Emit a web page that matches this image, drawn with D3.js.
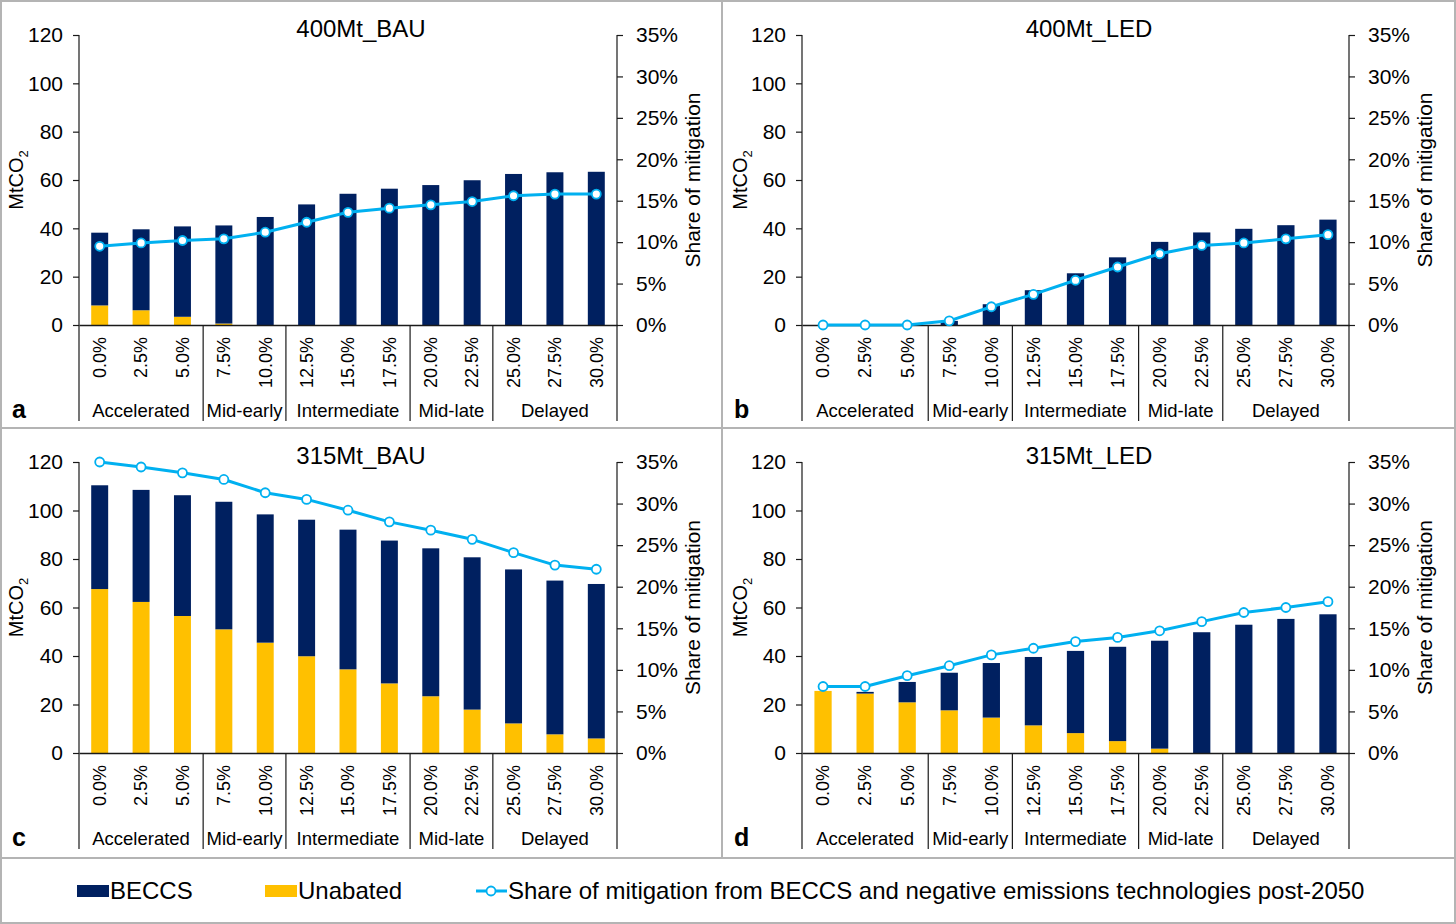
<!DOCTYPE html>
<html><head><meta charset="utf-8">
<script src="https://cdn.jsdelivr.net/npm/d3@7"></script>
<style>
body{margin:0;background:#fff}
svg{display:block}
text{font-family:"Liberation Sans",Arial,sans-serif;fill:#000}
</style>
</head><body><svg id="chart" width="1456" height="924"></svg>
<script>
// ---------- DATA ----------
const categories = ["0.0%","2.5%","5.0%","7.5%","10.0%","12.5%","15.0%","17.5%","20.0%","22.5%","25.0%","27.5%","30.0%"];
const groupNames = ["Accelerated","Mid-early","Intermediate","Mid-late","Delayed"];
const groupSizes = [3,2,3,2,3];
const yTicks = [0,20,40,60,80,100,120];
const pctTicks = [0,5,10,15,20,25,30,35];
const panelTitles = ["400Mt_BAU","400Mt_LED","315Mt_BAU","315Mt_LED"];
const panelLetters = ["a","b","c","d"];
const seriesNames = ["BECCS","Unabated","Share of mitigation from BECCS and negative emissions technologies post-2050"];

// 400Mt_BAU
const beccs400BAU    = [30.1,33.5,37.4,40.6,44.7,49.9,54.3,56.4,57.9,59.9,62.5,63.2,63.4];
const unabated400BAU = [8.1,6.1,3.4,0.6,0,0,0,0,0,0,0,0,0];
const share400BAU    = [9.5,9.9,10.2,10.4,11.2,12.4,13.6,14.1,14.5,14.9,15.6,15.8,15.8];
// 400Mt_LED
const beccs400LED    = [0,0,0,1.7,8.6,14.4,21.4,28.0,34.4,38.3,39.8,41.3,43.6];
const unabated400LED = [0,0,0,0,0,0,0,0,0,0,0,0,0];
const share400LED    = [0,0,0,0.5,2.2,3.7,5.4,7.0,8.6,9.6,9.9,10.4,10.9];
// 315Mt_BAU
const beccs315BAU    = [42.8,46.2,49.8,52.6,52.9,56.3,57.6,58.9,61.0,62.8,63.5,63.4,63.7];
const unabated315BAU = [67.6,62.3,56.5,51.0,45.5,39.9,34.5,28.7,23.4,17.9,12.2,7.7,6.0];
const share315BAU    = [35.0,34.4,33.7,32.9,31.3,30.5,29.2,27.8,26.8,25.7,24.1,22.6,22.1];
// 315Mt_LED
const beccs315LED    = [0,0.7,8.4,15.5,22.5,28.2,33.9,38.9,44.5,49.8,52.9,55.3,57.2];
const unabated315LED = [25.6,24.5,20.9,17.6,14.6,11.4,8.2,4.9,1.8,0,0,0,0];
const share315LED    = [8.0,8.0,9.3,10.5,11.8,12.6,13.4,13.9,14.7,15.8,16.9,17.5,18.2];

// ---------- STYLE / LAYOUT ----------
const C_BECCS = "#002060", C_UNAB = "#FFC000", C_LINE = "#00B0F0", C_BORDER = "#b4b4b4", C_AXIS = "#1a1a1a";
const layout = [
  {bx:0,   by:0,   bw:722, bh:428, x0:79,  x1:617,  top:35,  bottom:325},
  {bx:722, by:0,   bw:734, bh:428, x0:802, x1:1349, top:35,  bottom:325},
  {bx:0,   by:428, bw:722, bh:430, x0:79,  x1:617,  top:462, bottom:753},
  {bx:722, by:428, bw:734, bh:430, x0:802, x1:1349, top:462, bottom:753}
];
const panelData = [
  [beccs400BAU, unabated400BAU, share400BAU],
  [beccs400LED, unabated400LED, share400LED],
  [beccs315BAU, unabated315BAU, share315BAU],
  [beccs315LED, unabated315LED, share315LED]
];

const svg = d3.select("#chart");
svg.append("rect").attr("x",0).attr("y",0).attr("width",1456).attr("height",924).attr("fill","#fff");

panelData.forEach((pd, i) => {
  const L = layout[i];
  const g = svg.append("g");
  const rows = categories.map((c, j) => ({cat:c, beccs:pd[0][j], unabated:pd[1][j], share:pd[2][j]}));
  const x = d3.scaleBand().domain(categories).range([L.x0, L.x1]).paddingInner(0.59).paddingOuter(0.295);
  const y = d3.scaleLinear().domain([0,120]).range([L.bottom, L.top]);
  const y2 = d3.scaleLinear().domain([0,35]).range([L.bottom, L.top]);
  const sepBottom = L.bottom + 96;

  // bars
  const stack = d3.stack().keys(["unabated","beccs"])(rows);
  const colors = {unabated:C_UNAB, beccs:C_BECCS};
  stack.forEach(layer => {
    g.append("g").selectAll("rect").data(layer).join("rect")
      .attr("x", d => x(d.data.cat))
      .attr("width", x.bandwidth())
      .attr("y", d => y(d[1]))
      .attr("height", d => Math.max(0, y(d[0]) - y(d[1])))
      .attr("fill", colors[layer.key]);
  });

  // left axis
  const ax = g.append("g").attr("transform", `translate(${L.x0},0)`)
    .call(d3.axisLeft(y).tickValues(yTicks).tickSize(6).tickSizeOuter(0).tickPadding(10));
  ax.select(".domain").remove();
  ax.selectAll("line").attr("stroke", C_AXIS).attr("stroke-width",1.2);
  ax.selectAll("text").attr("font-size", 21).attr("font-family", '"Liberation Sans",Arial,sans-serif');

  // right axis
  const ar = g.append("g").attr("transform", `translate(${L.x1},0)`)
    .call(d3.axisRight(y2).tickValues(pctTicks).tickFormat(d => d + "%").tickSize(6).tickSizeOuter(0).tickPadding(13));
  ar.select(".domain").remove();
  ar.selectAll("line").attr("stroke", C_AXIS).attr("stroke-width",1.2);
  ar.selectAll("text").attr("font-size", 21).attr("font-family", '"Liberation Sans",Arial,sans-serif');

  // vertical axis lines (extend into category area)
  g.append("line").attr("x1",L.x0).attr("x2",L.x0).attr("y1",L.top).attr("y2",sepBottom).attr("stroke",C_AXIS).attr("stroke-width",1.2);
  g.append("line").attr("x1",L.x1).attr("x2",L.x1).attr("y1",L.top).attr("y2",sepBottom).attr("stroke",C_AXIS).attr("stroke-width",1.2);

  // bottom axis with rotated labels
  const ab = g.append("g").attr("transform", `translate(0,${y(0)})`)
    .call(d3.axisBottom(x).tickSize(0).tickSizeOuter(0));
  ab.select(".domain").attr("stroke", C_AXIS).attr("stroke-width",1.5);
  ab.selectAll("text")
    .attr("transform","rotate(-90)")
    .attr("x",-12).attr("y",0).attr("dy","0.35em")
    .attr("text-anchor","end")
    .attr("font-size",18)
    .attr("font-family", '"Liberation Sans",Arial,sans-serif');

  // group separators and labels
  let k = 0;
  const bounds = [0];
  groupSizes.forEach(s => { k += s; bounds.push(k); });
  bounds.slice(1, -1).forEach(b => {
    const xx = L.x0 + b * x.step();
    g.append("line").attr("x1",xx).attr("x2",xx).attr("y1",y(0)).attr("y2",sepBottom).attr("stroke",C_AXIS).attr("stroke-width",1.2);
  });
  groupNames.forEach((name, gi) => {
    const cx = L.x0 + (bounds[gi] + bounds[gi+1]) / 2 * x.step();
    g.append("text").attr("x",cx).attr("y",L.bottom + 92).attr("text-anchor","middle").attr("font-size",18.5).text(name);
  });

  // line
  const line = d3.line().x(d => x(d.cat) + x.bandwidth()/2).y(d => y2(d.share));
  g.append("path").datum(rows).attr("d", line).attr("fill","none").attr("stroke",C_LINE).attr("stroke-width",3).attr("stroke-linejoin","round");
  g.append("g").selectAll("circle").data(rows).join("circle")
    .attr("cx", d => x(d.cat) + x.bandwidth()/2)
    .attr("cy", d => y2(d.share))
    .attr("r", 4.5).attr("fill","#fff").attr("stroke",C_LINE).attr("stroke-width",1.8);

  // title
  g.append("text").attr("x", L.bx + L.bw/2).attr("y", L.top + 2).attr("text-anchor","middle").attr("font-size",24).text(panelTitles[i]);

  // y label left
  const yl = g.append("text").attr("transform", `translate(${L.bx + (i%2 ? 18 : 16)},${(L.top+L.bottom)/2}) rotate(-90)`)
    .attr("text-anchor","middle").attr("dy","0.35em").attr("font-size",20);
  yl.append("tspan").text("MtCO");
  yl.append("tspan").attr("font-size",13).attr("dy","0.35em").text("2");

  // y label right
  g.append("text").attr("transform", `translate(${L.x1 + 76},${(L.top+L.bottom)/2}) rotate(-90)`)
    .attr("text-anchor","middle").attr("dy","0.35em").attr("font-size",21).text("Share of mitigation");

  // panel letter
  g.append("text").attr("x", L.bx + 12).attr("y", L.bottom + 93).attr("font-size",25).attr("font-weight","bold").text(panelLetters[i]);
});

// borders
const bd = svg.append("g").attr("stroke",C_BORDER).attr("stroke-width",2).attr("fill","none");
bd.append("rect").attr("x",1).attr("y",1).attr("width",1454).attr("height",922);
bd.append("line").attr("x1",722).attr("x2",722).attr("y1",0).attr("y2",858);
bd.append("line").attr("x1",0).attr("x2",1456).attr("y1",428).attr("y2",428);
bd.append("line").attr("x1",0).attr("x2",1456).attr("y1",858).attr("y2",858);

// legend
const lg = svg.append("g");
const ly = 891;
lg.append("rect").attr("x",77).attr("y",ly-6).attr("width",32).attr("height",12).attr("fill",C_BECCS);
lg.append("text").attr("x",110).attr("y",ly).attr("dy","0.35em").attr("font-size",24).text(seriesNames[0]);
lg.append("rect").attr("x",265).attr("y",ly-6).attr("width",32).attr("height",12).attr("fill",C_UNAB);
lg.append("text").attr("x",298).attr("y",ly).attr("dy","0.35em").attr("font-size",24).text(seriesNames[1]);
lg.append("line").attr("x1",476).attr("x2",507).attr("y1",ly).attr("y2",ly).attr("stroke",C_LINE).attr("stroke-width",3);
lg.append("circle").attr("cx",491).attr("cy",ly).attr("r",4.5).attr("fill","#fff").attr("stroke",C_LINE).attr("stroke-width",1.8);
lg.append("text").attr("x",508).attr("y",ly).attr("dy","0.35em").attr("font-size",24).text(seriesNames[2]);
</script>
</body></html>
